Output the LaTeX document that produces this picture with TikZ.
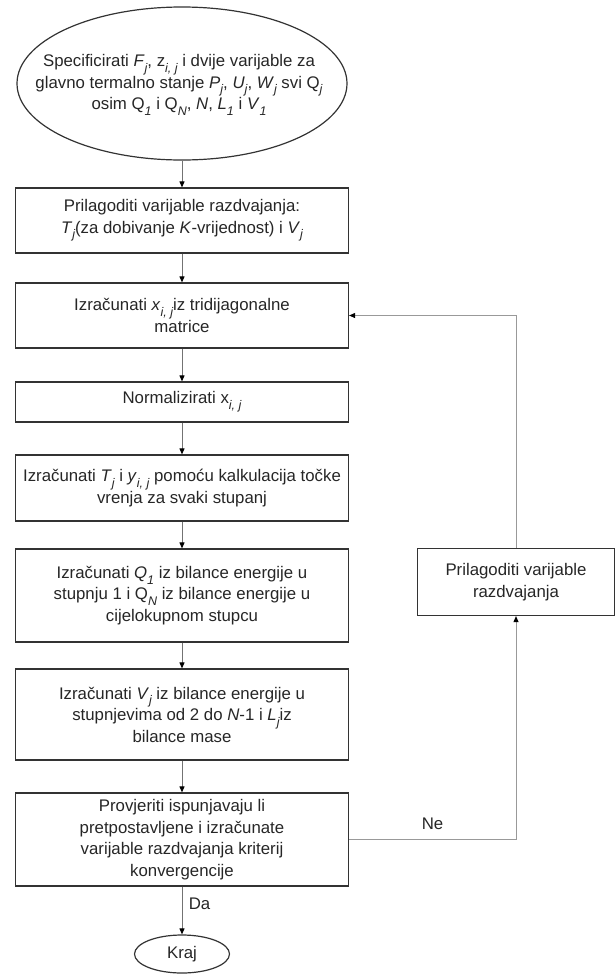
\documentclass[tikz,border=0pt]{standalone}
\usepackage{fontspec}
\setmainfont{Liberation Sans}
\usetikzlibrary{shapes.geometric,arrows.meta}
\newcommand{\lowi}[1]{\raisebox{-0.65ex}{\fontsize{12.5}{12.5}\selectfont\itshape #1}}
\tikzset{
	korak/.style={draw=black!80, line width=1.2pt, minimum width=333pt, align=center, inner sep=0pt, text=black!85, font=\fontsize{16.8}{21.5}\selectfont},
	tok/.style={draw=black!55, line width=0.9pt, >={Triangle[length=6pt,width=5pt,black]}},
	petlja/.style={tok, draw=black!40},
	oznaka/.style={text=black!85, font=\fontsize{16.8}{20}\selectfont},
}
\begin{document}
\begin{tikzpicture}[x=1pt,y=-1pt]
	\useasboundingbox (0,0) rectangle (615,978);
	\node [draw=black!80, line width=1.2pt, ellipse, minimum width=330pt, minimum height=153pt, inner sep=0pt] (P0) at (182,83.5) {};
	\node [oznaka, align=center] (P0t) at (179,85) {Specificirati \textit{F}\lowi{j}, z\lowi{i, j} i dvije varijable za\\ glavno termalno stanje \textit{P}\lowi{j}, \textit{U}\lowi{j}, \textit{W}\lowi{j} svi Q\lowi{j}\\ osim Q\lowi{1} i Q\lowi{N}, \textit{N}, \textit{L}\lowi{1} i \textit{V}\lowi{1}};
	\node [korak, minimum height=65pt] (P1) at (182,220.5) {Prilagoditi varijable razdvajanja:\\ \textit{T}\lowi{j}(za dobivanje \textit{K}-vrijednost) i \textit{V}\lowi{j}};
	\node [korak, minimum height=65pt] (P2) at (182,315.5) {Izračunati \textit{x}\lowi{i, j}iz  tridijagonalne\\ matrice};
	\node [korak, minimum height=40pt] (P3) at (182,402) {Normalizirati  x\lowi{i, j}};
	\node [korak, minimum height=66pt] (P4) at (182,488) {Izračunati \textit{T}\lowi{j} i \textit{y}\lowi{i, j} pomoću kalkulacija točke\\ vrenja za svaki stupanj};
	\node [korak, minimum height=93pt] (P5) at (182,595.5) {Izračunati \textit{Q}\lowi{1} iz bilance energije u\\ stupnju 1 i Q\lowi{N} iz bilance energije u\\ cijelokupnom stupcu};
	\node [korak, minimum height=91pt] (P6) at (182,714.5) {Izračunati \textit{V}\lowi{j} iz bilance energije u\\ stupnjevima od 2 do \textit{N}-1 i \textit{L}\lowi{j}iz\\ bilance mase};
	\node [korak, minimum height=93pt] (P7) at (182,839.5) {Provjeriti ispunjavaju li\\ pretpostavljene i izračunate\\ varijable razdvajanja kriterij\\ konvergencije};
	\node [draw=black!80, line width=1.2pt, ellipse, minimum width=95pt, minimum height=38pt, inner sep=0pt, oznaka] (P8) at (182,954) {Kraj};
	\node [korak, minimum width=197pt, minimum height=67pt] (P9) at (516,582) {Prilagoditi varijable\\ razdvajanja};
	\draw [tok]
	(P0) edge[->] (P1)
	(P1) edge[->] (P2)
	(P2) edge[->] (P3)
	(P3) edge[->] (P4)
	(P4) edge[->] (P5)
	(P5) edge[->] (P6)
	(P6) edge[->] (P7)
	(P7) edge[->] node[oznaka, right=3pt, pos=0.35] {Da} (P8);
	\draw [petlja,->] (P7.east) -| node[oznaka, above=6pt, pos=0.25] {Ne} (P9.south);
	\draw [petlja,->] (P9.north) |- (P2.east);
\end{tikzpicture}
\end{document}
